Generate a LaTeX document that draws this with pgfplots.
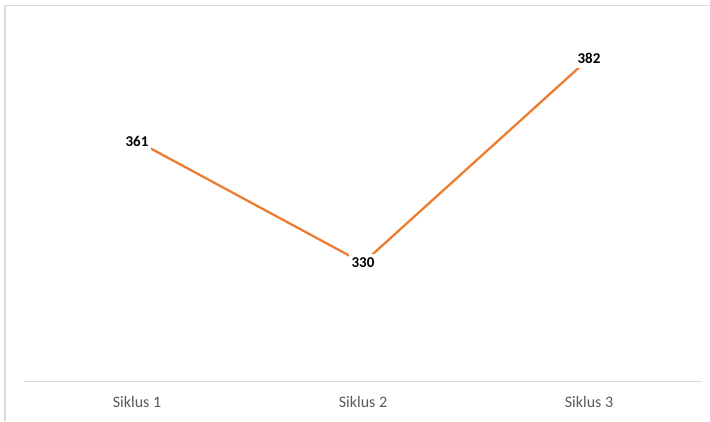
\documentclass[border=0pt]{standalone}
\usepackage{fontspec}
\setmainfont{Carlito}
\usepackage{pgfplots}
\pgfplotsset{compat=1.18}

\definecolor{lineorange}{HTML}{ED7D31}
\definecolor{framegray}{HTML}{D9D9D9}
\definecolor{ticktext}{HTML}{595959}

\begin{document}
\begin{tikzpicture}[x=1pt,y=1pt]
  \path[use as bounding box] (0,0) rectangle (710,421);
  % chart frame (left and top edges)
  \draw[framegray, line width=1.3pt] (5,0) -- (5,415.5) -- (710,415.5);
  \begin{axis}[
    at={(24pt,40pt)}, anchor=south west,
    scale only axis,
    width=678pt, height=354pt,
    xmin=0.5, xmax=3.5,
    ymin=300, ymax=390,
    axis y line=none,
    axis x line*=bottom,
    x axis line style={framegray, line width=1pt, -},
    xtick={1,2,3},
    xticklabels={Siklus 1, Siklus 2, Siklus 3},
    major tick length=0pt,
    xticklabel style={font=\fontsize{16}{19}\selectfont, text=ticktext, yshift=-12pt},
    clip=false,
    /pgf/number format/assume math mode=true,
    nodes near coords={\pgfmathprintnumber[assume math mode=true]{\pgfplotspointmeta}},
    every node near coord/.append style={
      anchor=center, font=\fontsize{15}{18}\selectfont\bfseries, text=black,
      fill=white, inner xsep=3pt, inner ysep=4.5pt},
  ]
    \addplot[lineorange, line width=2.3pt, mark=none,
      nodes near coords align={center}] coordinates {
      (1,361) (2,330) (3,382)
    };
  \end{axis}
\end{tikzpicture}
\end{document}
